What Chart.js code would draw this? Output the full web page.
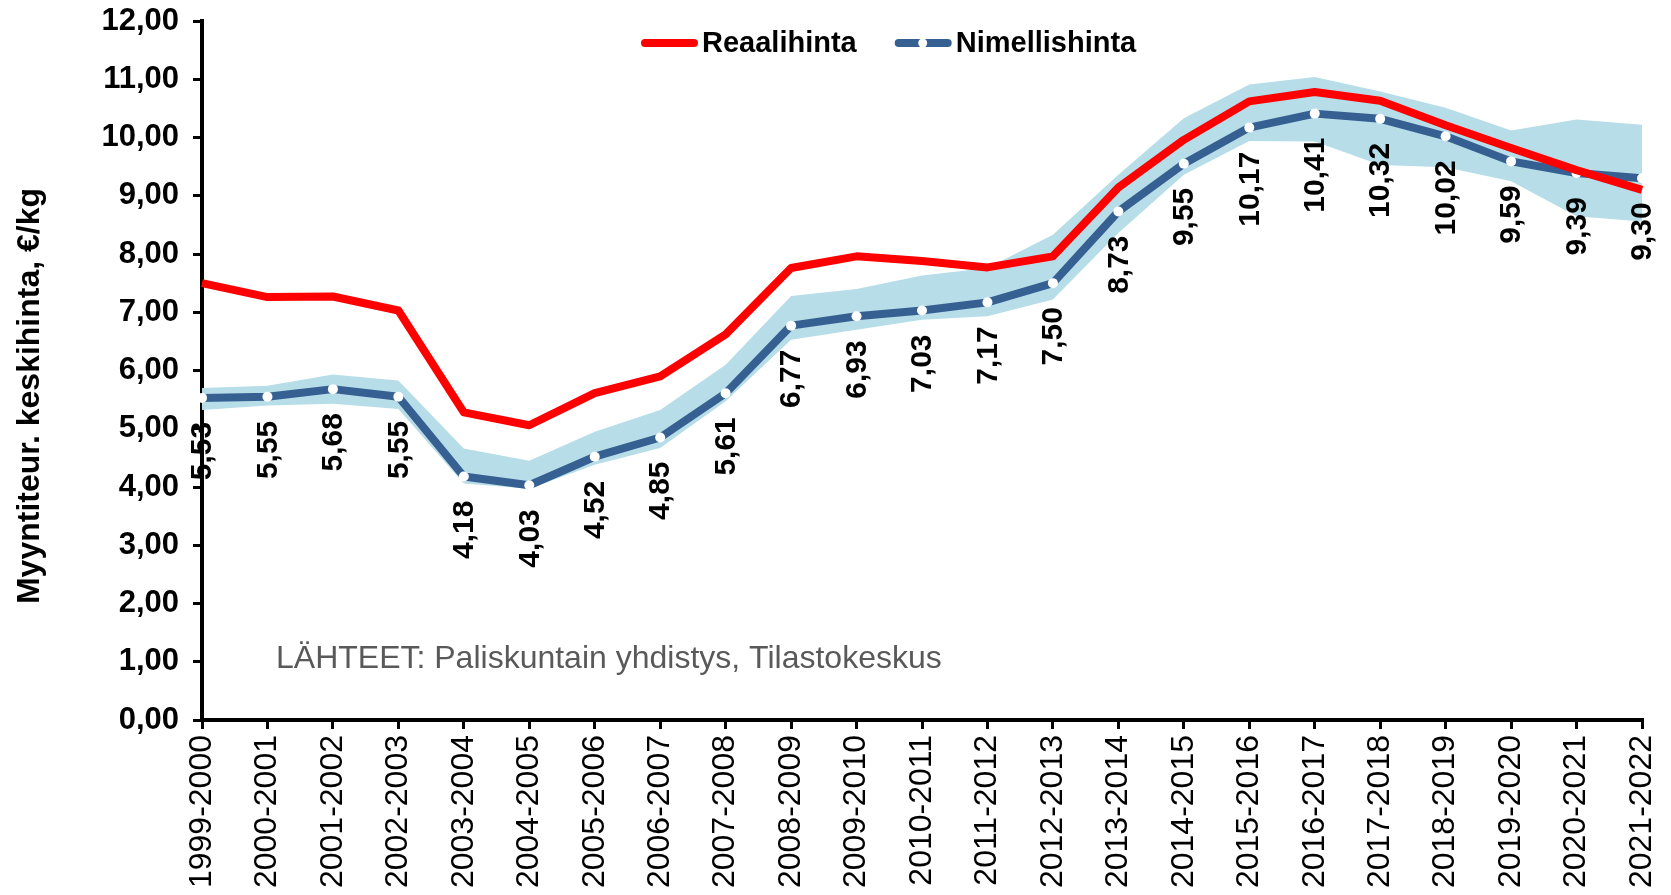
<!DOCTYPE html>
<html lang="fi">
<head>
<meta charset="utf-8">
<title>Myyntiteur. keskihinta</title>
<script src="https://cdn.jsdelivr.net/npm/chart.js@4.4.1/dist/chart.umd.min.js"></script>
<style>
  html, body { margin: 0; padding: 0; background: #fff; }
  canvas { display: block; }
</style>
</head>
<body>
<canvas id="hintaKaavio" width="1671" height="895"></canvas>
<script>
// Kaudet (x-akseli)
const kaudet = [
  "1999-2000", "2000-2001", "2001-2002", "2002-2003", "2003-2004", "2004-2005",
  "2005-2006", "2006-2007", "2007-2008", "2008-2009", "2009-2010", "2010-2011",
  "2011-2012", "2012-2013", "2013-2014", "2014-2015", "2015-2016", "2016-2017",
  "2017-2018", "2018-2019", "2019-2020", "2020-2021", "2021-2022"
];

// Reaalihinta (punainen)
const reaalihinta = [
  7.50, 7.26, 7.27, 7.03, 5.28, 5.06, 5.61, 5.90, 6.62, 7.76, 7.96, 7.88,
  7.77, 7.96, 9.14, 9.96, 10.62, 10.78, 10.63, 10.21, 9.82, 9.44, 9.10
];

// Nimellishinta (sininen, arvot merkitty)
const nimellishinta = [
  5.53, 5.55, 5.68, 5.55, 4.18, 4.03, 4.52, 4.85, 5.61, 6.77, 6.93, 7.03,
  7.17, 7.50, 8.73, 9.55, 10.17, 10.41, 10.32, 10.02, 9.59, 9.39, 9.30
];

// Vaihteluvali (vaaleansininen alue)
const ylaraja = [
  5.70, 5.74, 5.93, 5.83, 4.66, 4.45, 4.95, 5.32, 6.10, 7.28, 7.40, 7.63,
  7.76, 8.33, 9.36, 10.33, 10.91, 11.04, 10.79, 10.51, 10.12, 10.31, 10.22
];
const alaraja = [
  5.32, 5.40, 5.43, 5.34, 4.06, 3.97, 4.38, 4.67, 5.47, 6.53, 6.70, 6.87,
  6.93, 7.22, 8.36, 9.36, 9.94, 9.93, 9.53, 9.49, 9.25, 8.65, 8.56
];

// Akselin arvot
const yMin = 0;
const yMax = 12;
const yAskel = 1;

const lahdeTeksti = "LÄHTEET: Paliskuntain yhdistys, Tilastokeskus";
const yOtsikko = "Myyntiteur. keskihinta, €/kg";

const punainen = "#FF0000";
const sininen = "#376092";
const alue = "#B7DEE8";
const fontti = "'Liberation Sans', Arial, sans-serif";

Chart.defaults.font.family = fontti;
Chart.defaults.color = "#000";

const pilkku = (v) => v.toFixed(2).replace(".", ",");

// arvomerkinnat sinisen viivan alle, pystyyn kaannettyna
const arvoMerkinnat = {
  id: "arvoMerkinnat",
  afterDatasetsDraw(chart) {
    const ctx = chart.ctx;
    const meta = chart.getDatasetMeta(1);
    ctx.save();
    ctx.font = "bold 30px " + fontti;
    ctx.fillStyle = "#000";
    ctx.textAlign = "right";
    ctx.textBaseline = "middle";
    meta.data.forEach((piste, i) => {
      ctx.save();
      ctx.translate(piste.x + 1, piste.y + 24);
      ctx.rotate(-Math.PI / 2);
      ctx.fillText(pilkku(nimellishinta[i]), 0, 0);
      ctx.restore();
    });
    ctx.restore();
  },
};

// selite, akselin otsikko ja lahdeteksti
const seliteJaLahde = {
  id: "seliteJaLahde",
  afterDraw(chart) {
    const ctx = chart.ctx;
    ctx.save();
    ctx.font = "bold 29px " + fontti;
    ctx.textBaseline = "middle";
    ctx.textAlign = "left";
    let x = 641;
    const y = 43;
    [0, 1].forEach((i) => {
      const ds = chart.data.datasets[i];
      ctx.strokeStyle = ds.borderColor;
      ctx.lineWidth = 8;
      ctx.lineCap = "round";
      ctx.beginPath();
      ctx.moveTo(x + 4, y);
      ctx.lineTo(x + 53, y);
      ctx.stroke();
      if (i === 1) {
        ctx.fillStyle = "#fff";
        ctx.beginPath();
        ctx.arc(x + 28, y, 4.5, 0, Math.PI * 2);
        ctx.fill();
      }
      ctx.fillStyle = "#000";
      ctx.fillText(ds.label, x + 61, y + 1);
      x += 61 + ctx.measureText(ds.label).width + 38;
    });

    // y-akselin otsikko
    ctx.save();
    ctx.font = "bold 32px " + fontti;
    ctx.textAlign = "center";
    ctx.translate(30, 396);
    ctx.rotate(-Math.PI / 2);
    ctx.fillText(yOtsikko, 0, 0);
    ctx.restore();

    ctx.font = "32px " + fontti;
    ctx.fillStyle = "#595959";
    ctx.fillText(lahdeTeksti, 276, 659);
    ctx.restore();
  },
};

const ctx = document.getElementById("hintaKaavio").getContext("2d");

new Chart(ctx, {
  type: "line",
  data: {
    labels: kaudet,
    datasets: [
      {
        label: "Reaalihinta",
        data: reaalihinta,
        borderColor: punainen,
        backgroundColor: punainen,
        borderWidth: 8,
        borderJoinStyle: "round",
        pointRadius: 0,
        fill: false,
        tension: 0,
      },
      {
        label: "Nimellishinta",
        data: nimellishinta,
        borderColor: sininen,
        backgroundColor: sininen,
        borderWidth: 8,
        borderJoinStyle: "round",
        pointRadius: 5,
        pointBackgroundColor: "#fff",
        pointBorderWidth: 0,
        fill: false,
        tension: 0,
      },
      {
        label: "Ylaraja",
        data: ylaraja,
        borderWidth: 0,
        borderColor: alue,
        backgroundColor: alue,
        pointRadius: 0,
        fill: "+1",
        tension: 0,
      },
      {
        label: "Alaraja",
        data: alaraja,
        borderWidth: 0,
        borderColor: alue,
        backgroundColor: alue,
        pointRadius: 0,
        fill: false,
        tension: 0,
      },
    ],
  },
  options: {
    responsive: false,
    devicePixelRatio: 1,
    animation: false,
    layout: { padding: { top: 21, right: 29, bottom: 0, left: 0 } },
    plugins: {
      legend: { display: false },
      tooltip: { enabled: false },
    },
    scales: {
      x: {
        offset: false,
        border: { display: true, color: "#000", width: 4 },
        grid: {
          drawOnChartArea: false,
          drawTicks: true,
          tickLength: 9,
          color: "#000",
          lineWidth: 3,
        },
        ticks: {
          autoSkip: false,
          minRotation: 90,
          maxRotation: 90,
          padding: 6,
          color: "#000",
          font: { size: 32 },
        },
        afterFit(scale) {
          scale.height = 175;
          scale.paddingLeft = 0;
          scale.paddingRight = 0;
        },
      },
      y: {
        min: yMin,
        max: yMax,
        border: { display: true, color: "#000", width: 4 },
        grid: {
          drawOnChartArea: false,
          drawTicks: true,
          tickLength: 9,
          color: "#000",
          lineWidth: 3,
        },
        ticks: {
          stepSize: yAskel,
          padding: 14,
          color: "#000",
          font: { size: 31, weight: "bold" },
          callback: (v) => pilkku(v),
        },
        afterFit(scale) {
          scale.width = 202;
          scale.paddingTop = 0;
          scale.paddingBottom = 0;
        },
      },
    },
  },
  plugins: [arvoMerkinnat, seliteJaLahde],
});
</script>
</body>
</html>
